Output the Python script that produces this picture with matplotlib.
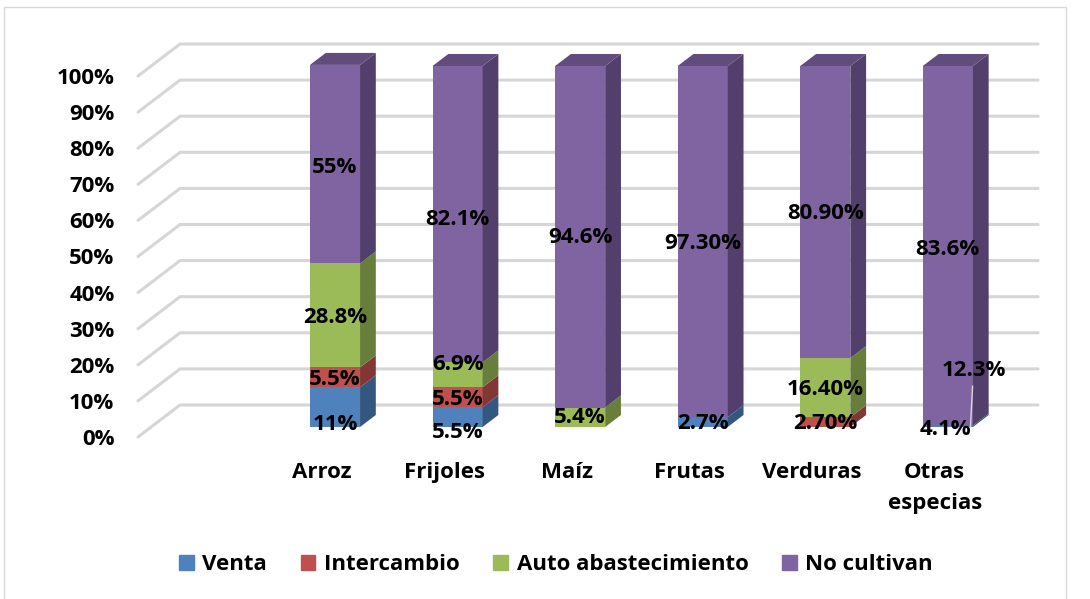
import numpy as np
from matplotlib import pyplot as plt
from matplotlib.patches import Patch, Rectangle

plt.rcParams['font.family'] = ['Open Sans', 'DejaVu Sans']
plt.rcParams['font.weight'] = 'bold'

categories = ['Arroz', 'Frijoles', 'Maíz', 'Frutas', 'Verduras', 'Otras\nespecias']
series = ['Venta', 'Intercambio', 'Auto abastecimiento', 'No cultivan']

# heights of the segments as they are drawn
venta = [11, 5.5, 0, 2.7, 0, 0.4]
intercambio = [5.5, 5.5, 0, 0, 2.7, 0]
auto = [28.8, 6.9, 5.4, 0, 16.4, 0]
no_cultivan = [55, 82.1, 94.6, 97.3, 80.9, 99.6]

# printed labels, they do not always agree with the segments
venta_labels = ['11%', '5.5%', '', '2.7%', '', '4.1%']
intercambio_labels = ['5.5%', '5.5%', '', '', '2.70%', '']
auto_labels = ['28.8%', '6.9%', '5.4%', '', '16.40%', '']
no_cultivan_labels = ['55%', '82.1%', '94.6%', '97.30%', '80.90%', '83.6%']

# nudges of the labels from the middle of their segment, pixels
venta_nudge = [(0, -17), (0, -15), (0, 0), (0, -1), (0, 0), (-2, -3)]
intercambio_nudge = [(0, -2), (0, -2), (0, 0), (0, 0), (0, -1), (0, 0)]
auto_nudge = [(0, -2), (0, 10), (0, 0), (0, 0), (0, -2), (0, 0)]
no_cultivan_nudge = [(0, -3), (0, -5), (0, -1), (0, -2), (0, -1), (0, -4)]

values = [venta, intercambio, auto, no_cultivan]
labels = [venta_labels, intercambio_labels, auto_labels, no_cultivan_labels]
nudges = [venta_nudge, intercambio_nudge, auto_nudge, no_cultivan_nudge]

front_colors = ['#4f81bd', '#c0504d', '#9bbb59', '#8064a2']
side_colors = ['#34577f', '#823734', '#687f3c', '#533f6b']
top_colors = ['#3f6797', '#9a403e', '#7c9647', '#614c7c']

label_size = 16

# fake 3d: a point at depth d (0 front, 1 back wall) moves right and up
depth_x = 42 / 122.4
depth_y = 32 / 3.61
bar_d1, bar_d2 = 0.3125, 0.6875
bar_width = 50 / 122.4


def skew(x, y, d):
    return x + d * depth_x, y + d * depth_y


def face(ax, corners, color, zorder):
    pts = [skew(*c) for c in corners]
    ax.fill([p[0] for p in pts], [p[1] for p in pts], color=color, lw=0, zorder=zorder, clip_on=False)


fig = plt.figure(figsize=(10.9, 5.99), dpi=100)
ax = fig.add_axes([138 / 1090, 1 - 437 / 599, (996 - 138) / 1090, (437 - 76) / 599])
ax.set_xlim(-1.5, 5.5)
ax.set_ylim(0, 100)
for s in ax.spines.values():
    s.set_visible(False)
ax.patch.set_visible(False)

# outer frame of the chart
fig.add_artist(Rectangle((4 / 1090, -0.02), 1062 / 1090, 1 - 7 / 599 + 0.02, transform=fig.transFigure,
                         fill=False, ec='#d9d9d9', lw=1))

# gridlines: floor/side diagonal then along the back wall
ticks = np.arange(0, 101, 10)
for t in ticks:
    x0, y0 = skew(-1.5, t, 0)
    x1, y1 = skew(-1.5, t, 1)
    x2, y2 = skew(5.5, t, 1)
    ax.plot([x0, x1, x2], [y0, y1, y2], color='#d6d6d6', lw=2.2, zorder=1, clip_on=False,
            solid_capstyle='round', solid_joinstyle='miter')

for i in range(len(categories)):
    left, right = i - bar_width / 2, i + bar_width / 2
    bottom = 0
    for j in range(len(series)):
        v = values[j][i]
        if v == 0:
            continue
        top = bottom + v
        face(ax, [(left, bottom, bar_d1), (right, bottom, bar_d1), (right, top, bar_d1), (left, top, bar_d1)],
             front_colors[j], 3)
        face(ax, [(right, bottom, bar_d1), (right, bottom, bar_d2), (right, top, bar_d2), (right, top, bar_d1)],
             side_colors[j], 3)
        if j == 3:
            face(ax, [(left, top, bar_d1), (right, top, bar_d1), (right, top, bar_d2), (left, top, bar_d2)],
                 top_colors[j], 3)
        if labels[j][i]:
            cx, cy = skew(i, bottom + v / 2, bar_d1)
            ax.annotate(labels[j][i], xy=(cx, cy), xytext=nudges[j][i], textcoords='offset pixels',
                        ha='center', va='center', fontsize=label_size, color='black', zorder=5)
        bottom = top

# the moved label of the last bar keeps its leader line
lx, ly = skew(5 + bar_width / 2 - 0.02, 0, bar_d1)
ax.annotate('12.3%', xy=(lx, ly), xytext=(3, 57), textcoords='offset pixels', ha='center', va='center',
            fontsize=label_size, color='black', zorder=5,
            arrowprops=dict(arrowstyle='-', color='#d9d9d9', lw=1, shrinkA=2, shrinkB=0))

ax.set_yticks(ticks, [f'{t}%' for t in ticks])
ax.set_xticks(range(len(categories)), categories)
ax.tick_params(axis='y', length=0, pad=17, labelsize=label_size)
ax.tick_params(axis='x', length=0, pad=18, labelsize=label_size)
for tl in ax.get_xticklabels():
    tl.set_linespacing(1.65)

handles = [Patch(color=c, label=s) for c, s in zip(front_colors, series)]
fig.legend(handles=handles, loc='center', bbox_to_anchor=(556 / 1090, 1 - 565 / 599), ncol=4, frameon=False,
           fontsize=label_size, handlelength=0.66, handleheight=0.66, handletextpad=0.4, columnspacing=1.5)

fig.savefig('out.png', dpi=100)
